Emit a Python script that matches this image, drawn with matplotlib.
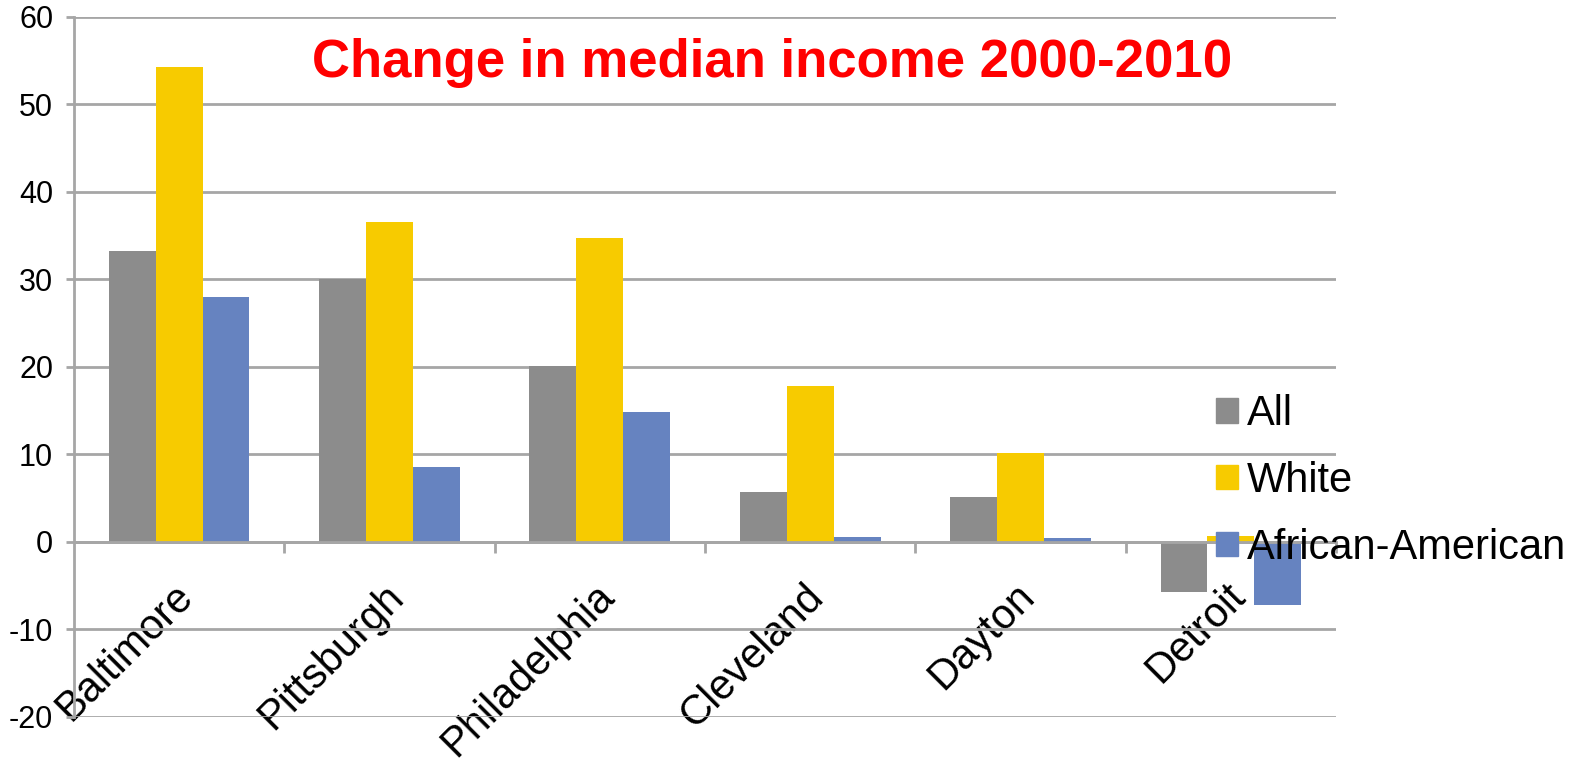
import numpy as np
import matplotlib.pyplot as plt
from matplotlib.patches import Patch
from matplotlib.transforms import ScaledTranslation

# chart values
cities = ['Baltimore', 'Pittsburgh', 'Philadelphia', 'Cleveland', 'Dayton', 'Detroit']
all_vals = [33.2, 30.0, 20.1, 5.7, 5.1, -5.7]
white_vals = [54.2, 36.5, 34.7, 17.8, 10.1, 0.6]
black_vals = [28.0, 8.5, 14.8, 0.5, 0.4, -7.2]
series_names = ['All', 'White', 'African-American']
y_ticks = [-20, -10, 0, 10, 20, 30, 40, 50, 60]

colors = ['#8c8c8c', '#f7cb00', '#6683c0']
grid_col = '#a6a6a6'
plt.rcParams['font.family'] = ['Liberation Sans', 'DejaVu Sans']
plt.rcParams['axes.unicode_minus'] = False

fig = plt.figure(figsize=(15.77, 7.61), dpi=100)
ax = fig.add_axes([0.0469, 0.0582, 0.8003, 0.9198])

x = np.arange(len(cities))
w = 0.223
for k, vals in enumerate([all_vals, white_vals, black_vals]):
    ax.bar(x + (k - 1) * w, vals, width=w, color=colors[k], zorder=3)

ax.set_xlim(-0.5, len(cities) - 0.5)
ax.set_ylim(-20, 60)
ax.set_yticks(y_ticks)
ax.yaxis.grid(True, color=grid_col, linewidth=2, zorder=0)
ax.tick_params(axis='y', length=6, width=2, color=grid_col, pad=9, labelsize=22)

for s in ['top', 'right']:
    ax.spines[s].set_visible(False)
ax.spines['left'].set_color(grid_col)
ax.spines['left'].set_linewidth(2)
ax.spines['bottom'].set_position(('data', 0))
ax.spines['bottom'].set_color(grid_col)
ax.spines['bottom'].set_linewidth(2)
ax.spines['bottom'].set_zorder(4)

ax.set_xticks(x)
ax.set_xticks(np.arange(len(cities)) + 0.5, minor=True)
ax.set_xticklabels(cities, rotation=45, ha='right', va='top', rotation_mode='anchor', fontsize=30)
ax.tick_params(axis='x', which='major', length=0, pad=16)
ax.tick_params(axis='x', which='minor', length=8, width=2, color=grid_col, direction='out')
# nudge the rotated city names down-left a little
shift = ScaledTranslation(-0.06, -0.12, fig.dpi_scale_trans)
for lab in ax.get_xticklabels():
    lab.set_transform(lab.get_transform() + shift)

fig.text(0.4895, 0.899, 'Change in median income 2000-2010', color='#ff0000', fontsize=38,
         fontweight='bold', ha='center', va='baseline')

handles = [Patch(color=c) for c in colors]
fig.legend(handles, series_names, loc='center left', bbox_to_anchor=(0.7576, 0.368),
           frameon=False, fontsize=30, handlelength=0.53, handleheight=0.53,
           handletextpad=0.22, labelspacing=0.64, borderpad=0)

fig.savefig('out.png', dpi=100)
